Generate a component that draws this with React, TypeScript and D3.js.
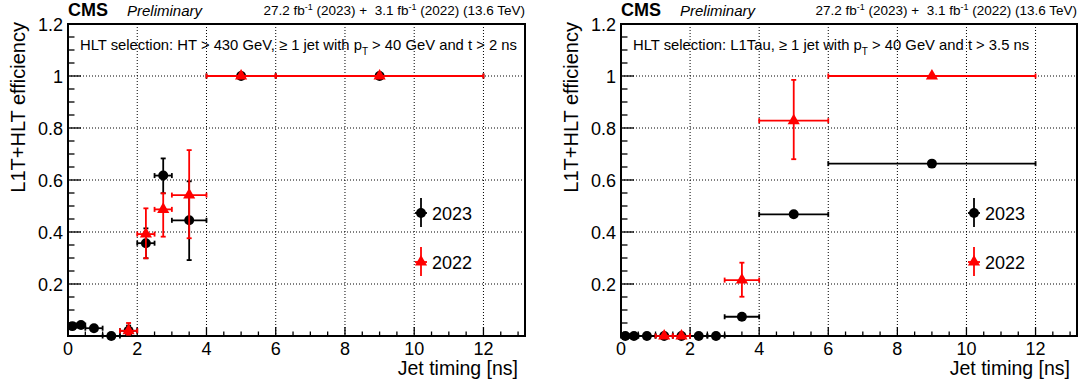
import React from "react";
import * as d3 from "d3";

// ---------- data ----------
const BIN_LO_2023 = [0, 0.25, 0.5, 1.0, 1.5, 2.0, 2.5, 3.0, 4.0, 6.0];
const BIN_HI_2023 = [0.25, 0.5, 1.0, 1.5, 2.0, 2.5, 3.0, 4.0, 6.0, 12.0];

// Left panel (HT selection)
const HT_EFF_2023 = [0.038, 0.042, 0.03, 0.0, 0.02, 0.357, 0.617, 0.445, 1.0, 1.0];
const HT_ERRLO_2023 = [0.008, 0.008, 0.008, 0.0, 0.01, 0.058, 0.068, 0.153, 0, 0];
const HT_ERRHI_2023 = [0.008, 0.008, 0.008, 0.01, 0.02, 0.057, 0.066, 0.15, 0, 0];

const HT_BIN_LO_2022 = [1.5, 2.0, 2.5, 3.0, 4.0, 6.0];
const HT_BIN_HI_2022 = [2.0, 2.5, 3.0, 4.0, 6.0, 12.0];
const HT_EFF_2022 = [0.02, 0.392, 0.487, 0.542, 1.0, 1.0];
const HT_ERRLO_2022 = [0.015, 0.093, 0.105, 0.166, 0, 0];
const HT_ERRHI_2022 = [0.03, 0.099, 0.062, 0.173, 0, 0];

// Right panel (L1Tau selection)
const TAU_EFF_2023 = [0, 0, 0, 0, 0, 0, 0, 0.074, 0.468, 0.663];
const TAU_ERRLO_2023 = [0, 0, 0, 0, 0, 0, 0, 0.008, 0.01, 0.01];
const TAU_ERRHI_2023 = [0.004, 0.004, 0.004, 0.004, 0.004, 0.004, 0.004, 0.008, 0.01, 0.01];

const TAU_BIN_LO_2022 = [1.0, 1.5, 3.0, 4.0, 6.0];
const TAU_BIN_HI_2022 = [1.5, 2.0, 4.0, 6.0, 12.0];
const TAU_EFF_2022 = [0, 0, 0.215, 0.828, 1.0];
const TAU_ERRLO_2022 = [0, 0, 0.064, 0.148, 0];
const TAU_ERRHI_2022 = [0.004, 0.004, 0.067, 0.157, 0];

const X_TICKS = [0, 2, 4, 6, 8, 10, 12];
const X_TICK_LABELS = ["0", "2", "4", "6", "8", "10", "12"];
const Y_TICKS = [0.2, 0.4, 0.6, 0.8, 1.0, 1.2];
const Y_TICK_LABELS = ["0.2", "0.4", "0.6", "0.8", "1", "1.2"];
const LEGEND_LABELS = ["2023", "2022"];

const X_DOMAIN = [0, 13.2];
const Y_DOMAIN = [0, 1.2];

const FONT = "'Liberation Sans', Arial, Helvetica, sans-serif";
const RED = "#ff0000";
const BLACK = "#000000";

type Series = {
  lo: number[];
  hi: number[];
  y: number[];
  eLo: number[];
  eHi: number[];
  color: string;
  marker: "circle" | "triangle";
};

const circlePath = d3.symbol().type(d3.symbolCircle).size(78)()!;
const trianglePath = d3.symbol().type(d3.symbolTriangle).size(64)()!;

function Marker({ x, y, kind, color }: { x: number; y: number; kind: string; color: string }) {
  return (
    <path
      d={kind === "circle" ? circlePath : trianglePath}
      transform={`translate(${x},${y})`}
      fill={color}
    />
  );
}

function SeriesMarks({ s, xs, ys }: { s: Series; xs: any; ys: any }) {
  const cap = 2.5;
  return (
    <g>
      {s.y.map((v, i) => {
        const cx = xs((s.lo[i] + s.hi[i]) / 2);
        const cy = ys(v);
        const x1 = xs(s.lo[i]);
        const x2 = xs(s.hi[i]);
        const yTop = ys(Math.min(1.0, v + s.eHi[i]));
        const yBot = ys(Math.max(0, v - s.eLo[i]));
        return (
          <g key={i} stroke={s.color} strokeWidth={1.8} fill="none">
            <line x1={x1} x2={x2} y1={cy} y2={cy} />
            <line x1={x1} x2={x1} y1={cy - cap} y2={cy + cap} />
            <line x1={x2} x2={x2} y1={cy - cap} y2={cy + cap} />
            {yTop < cy - 0.5 && (
              <>
                <line x1={cx} x2={cx} y1={yTop} y2={cy} />
                <line x1={cx - cap} x2={cx + cap} y1={yTop} y2={yTop} />
              </>
            )}
            {yBot > cy + 0.5 && (
              <>
                <line x1={cx} x2={cx} y1={cy} y2={yBot} />
                <line x1={cx - cap} x2={cx + cap} y1={yBot} y2={yBot} />
              </>
            )}
            <g stroke="none">
              <Marker x={cx} y={cy} kind={s.marker} color={s.color} />
            </g>
          </g>
        );
      })}
    </g>
  );
}

function Panel({
  left,
  right,
  selection,
  series,
}: {
  left: number;
  right: number;
  selection: React.ReactNode;
  series: Series[];
}) {
  const top = 24;
  const bottom = 336;
  const xs = d3.scaleLinear().domain(X_DOMAIN).range([left, right]);
  const ys = d3.scaleLinear().domain(Y_DOMAIN).range([bottom, top]);
  const xMinor = d3.range(0, 13.01, 0.5);
  const yMinor = d3.range(0, 1.2001, 0.05);
  const legX = left + 353;
  return (
    <g fontFamily={FONT}>
      {/* grid */}
      <g stroke="#000" strokeWidth={1} strokeDasharray="1 2">
        {X_TICKS.filter((t) => t > 0).map((t) => (
          <line key={"gx" + t} x1={xs(t)} x2={xs(t)} y1={top} y2={bottom} />
        ))}
        {Y_TICKS.filter((t) => t < 1.2).map((t) => (
          <line key={"gy" + t} x1={left} x2={right} y1={ys(t)} y2={ys(t)} />
        ))}
      </g>
      {/* ticks */}
      <g stroke="#000" strokeWidth={1.3}>
        {xMinor.map((t) => {
          const major = Math.abs(t / 2 - Math.round(t / 2)) < 1e-6;
          return (
            <line key={"tx" + t} x1={xs(t)} x2={xs(t)} y1={bottom} y2={bottom - (major ? 9 : 4.5)} />
          );
        })}
        {yMinor.map((t) => {
          const major = Math.abs(t / 0.2 - Math.round(t / 0.2)) < 1e-6;
          return (
            <line key={"ty" + t} x1={left} x2={left + (major ? 13 : 6.5)} y1={ys(t)} y2={ys(t)} />
          );
        })}
      </g>
      {/* frame */}
      <rect x={left} y={top} width={right - left} height={bottom - top} fill="none" stroke="#000" strokeWidth={2} />
      {/* tick labels */}
      {X_TICKS.map((t, i) => (
        <text key={"lx" + t} x={xs(t)} y={355} fontSize={18} textAnchor="middle">
          {X_TICK_LABELS[i]}
        </text>
      ))}
      {Y_TICKS.map((t, i) => (
        <text key={"ly" + t} x={left - 5} y={ys(t) + 6.5} fontSize={18} textAnchor="end">
          {Y_TICK_LABELS[i]}
        </text>
      ))}
      {/* axis titles */}
      <text x={right - 7} y={375} fontSize={19.5} textAnchor="end">
        Jet timing [ns]
      </text>
      <text transform={`translate(${left - 43},${top - 2}) rotate(-90)`} fontSize={20} textAnchor="end">
        L1T+HLT efficiency
      </text>
      {/* header */}
      <text x={left} y={16} fontSize={18} fontWeight="bold">
        CMS
      </text>
      <text x={left + 59} y={16} fontSize={15} fontStyle="italic">
        Preliminary
      </text>
      <text x={right} y={15} fontSize={13.5} textAnchor="end" style={{ whiteSpace: "pre" }}>
        27.2 fb<tspan dy={-5} fontSize={9}>-1</tspan>
        <tspan dy={5}>{" (2023) +  3.1 fb"}</tspan>
        <tspan dy={-5} fontSize={9}>-1</tspan>
        <tspan dy={5}>{" (2022) (13.6 TeV)"}</tspan>
      </text>
      <text x={left + 12} y={50} fontSize={14.8} style={{ whiteSpace: "pre" }}>
        {selection}
      </text>
      {/* data */}
      {series.map((s, i) => (
        <SeriesMarks key={i} s={s} xs={xs} ys={ys} />
      ))}
      {/* legend */}
      {series.map((s, i) => {
        const ly = 213 + i * 49;
        return (
          <g key={"leg" + i}>
            <g stroke={s.color} strokeWidth={1.8}>
              <line x1={legX} x2={legX} y1={ly - 15} y2={ly + 14} />
              <line x1={legX - 6} x2={legX + 6} y1={ly} y2={ly} />
            </g>
            <Marker x={legX} y={ly} kind={s.marker} color={s.color} />
            <text x={legX + 11} y={ly + 6.5} fontSize={18}>
              {LEGEND_LABELS[i]}
            </text>
          </g>
        );
      })}
    </g>
  );
}

export default function App() {
  const leftSeries: Series[] = [
    { lo: BIN_LO_2023, hi: BIN_HI_2023, y: HT_EFF_2023, eLo: HT_ERRLO_2023, eHi: HT_ERRHI_2023, color: BLACK, marker: "circle" },
    { lo: HT_BIN_LO_2022, hi: HT_BIN_HI_2022, y: HT_EFF_2022, eLo: HT_ERRLO_2022, eHi: HT_ERRHI_2022, color: RED, marker: "triangle" },
  ];
  const rightSeries: Series[] = [
    { lo: BIN_LO_2023, hi: BIN_HI_2023, y: TAU_EFF_2023, eLo: TAU_ERRLO_2023, eHi: TAU_ERRHI_2023, color: BLACK, marker: "circle" },
    { lo: TAU_BIN_LO_2022, hi: TAU_BIN_HI_2022, y: TAU_EFF_2022, eLo: TAU_ERRLO_2022, eHi: TAU_ERRHI_2022, color: RED, marker: "triangle" },
  ];
  return (
    <svg
      width={1083}
      height={387}
      style={{ position: "absolute", left: 0, top: 0, background: "#fff" }}
    >
      <rect x={0} y={0} width={1083} height={387} fill="#fff" />
      <Panel
        left={68}
        right={525}
        series={leftSeries}
        selection={
          <>
            HLT selection: HT &gt; 430 GeV, ≥ 1 jet with p<tspan dy={5} fontSize={10}>T</tspan>
            <tspan dy={-5}> &gt; 40 GeV and t &gt; 2 ns</tspan>
          </>
        }
      />
      <Panel
        left={621}
        right={1077}
        series={rightSeries}
        selection={
          <>
            HLT selection: L1Tau, ≥ 1 jet with p<tspan dy={5} fontSize={10}>T</tspan>
            <tspan dy={-5}> &gt; 40 GeV and t &gt; 3.5 ns</tspan>
          </>
        }
      />
    </svg>
  );
}
